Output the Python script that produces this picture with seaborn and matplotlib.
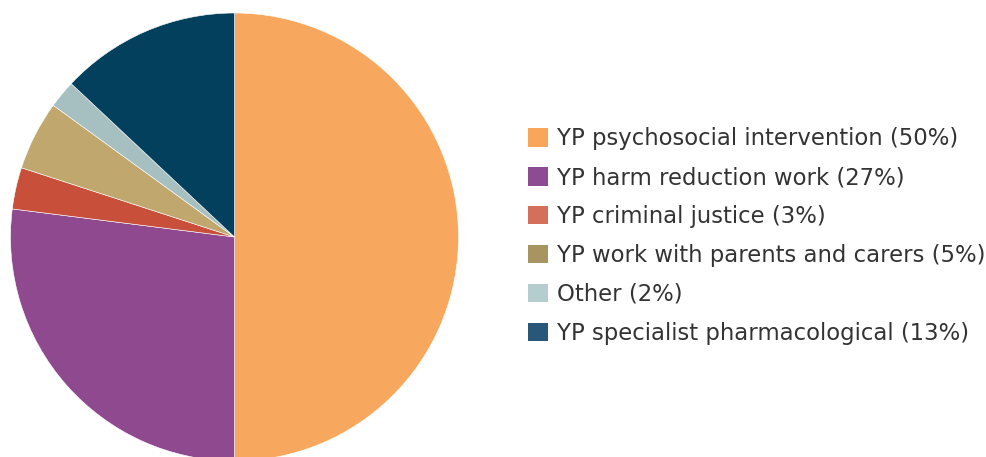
import matplotlib
matplotlib.use("Agg")
import matplotlib.pyplot as plt
from matplotlib.patches import Patch
import seaborn as sns

categories = [
    "YP psychosocial intervention",
    "YP harm reduction work",
    "YP criminal justice",
    "YP work with parents and carers",
    "Other",
    "YP specialist pharmacological",
]
shares = [50, 27, 3, 5, 2, 13]
slice_colors = ["#F8A85E", "#8F4A8F", "#C8503A", "#BFA76E", "#A6C0C2", "#02405E"]
legend_colors = ["#F9A65A", "#8E4B94", "#D4705A", "#A89460", "#B6CDCF", "#27587A"]

sns.set_theme(style="white")
plt.rcParams["font.family"] = ["DejaVu Sans"]

W, H = 987, 457
fig = plt.figure(figsize=(W / 100, H / 100), dpi=100)

cx, cy, r = 234.5, 237.0, 224.0
ax = fig.add_axes([(cx - r) / W, (H - cy - r) / H, 2 * r / W, 2 * r / H])
ax.pie(
    shares,
    colors=slice_colors,
    startangle=90,
    counterclock=False,
    radius=1.0,
    wedgeprops=dict(linewidth=0.4, edgecolor="white"),
)
ax.set_xlim(-1, 1)
ax.set_ylim(-1, 1)
ax.set_aspect("equal")
ax.axis("off")

handles = [Patch(facecolor=c, edgecolor="none") for c in legend_colors]
labels = [f"{name} ({v}%)" for name, v in zip(categories, shares)]
fig.legend(
    handles,
    labels,
    loc="center left",
    bbox_to_anchor=(528 / W, 1 - 236 / H),
    frameon=False,
    fontsize=16.4,
    handlelength=0.88,
    handleheight=0.88,
    handletextpad=0.38,
    labelspacing=0.7,
    borderpad=0,
    borderaxespad=0,
    labelcolor="#333333",
)

fig.savefig("out.png", dpi=100, facecolor="white")
